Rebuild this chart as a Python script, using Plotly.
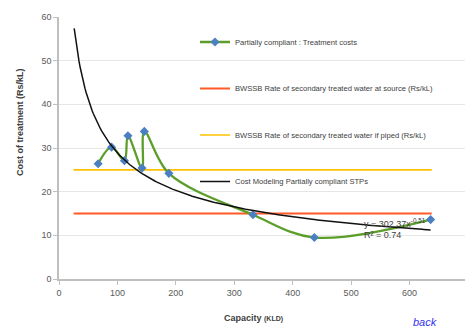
import numpy as np
import plotly.graph_objects as go

# ---- data ----
capacity_kld = [67, 90, 112, 118, 142, 146, 188, 332, 437, 636]
treatment_cost = [26.4, 30.2, 27.1, 32.8, 25.4, 33.8, 24.2, 14.7, 9.5, 13.6]

rate_x = [25, 638]
rate_at_source = [15, 15]
rate_if_piped = [25, 25]

trend_coef = 302.37
trend_exp = -0.51
trend_r2 = 0.74
trend_x_range = [26, 636]

x_ticks = [0, 100, 200, 300, 400, 500, 600, 700]
y_ticks = [0, 10, 20, 30, 40, 50, 60]

tx = np.linspace(trend_x_range[0], trend_x_range[1], 300)
ty = trend_coef * tx ** trend_exp

FONT = "Liberation Sans, Arial, sans-serif"

W, H = 465, 321
ML, MR, MT, MB = 51, 5, 9, 50
PW = W - ML - MR
PH = H - MT - MB


def px_x(p):  # page pixel x -> paper
    return (p - 8 - ML) / PW


def px_y(p):  # page pixel y -> paper
    return 1 - (p - 8 - MT) / PH


fig = go.Figure()

fig.add_trace(go.Scatter(
    x=rate_x, y=rate_at_source, mode="lines",
    line=dict(color="#ff5a28", width=2),
    name="BWSSB Rate of secondary treated water at source (Rs/kL)",
    legendgroup="b", legendrank=2))
fig.add_trace(go.Scatter(
    x=rate_x, y=rate_if_piped, mode="lines",
    line=dict(color="#ffc000", width=1.6),
    name="BWSSB Rate of secondary treated water if piped (Rs/kL)",
    legendgroup="c", legendrank=3))
fig.add_trace(go.Scatter(
    x=capacity_kld, y=treatment_cost, mode="lines+markers",
    line=dict(color="#5b9e2a", width=2.3, shape="spline", smoothing=1),
    marker=dict(symbol="diamond", size=7, color="#4a7fc1"),
    name="Partially compliant : Treatment costs",
    legendgroup="a", legendrank=1))
fig.add_trace(go.Scatter(
    x=tx, y=ty, mode="lines",
    line=dict(color="#111111", width=1.5),
    name="Cost Modeling Partially compliant STPs",
    legendgroup="d", legendrank=4))

axis_common = dict(
    showline=True, linecolor="#bfbfbf", linewidth=1.5,
    ticks="outside", ticklen=4, tickcolor="#bfbfbf",
    tickfont=dict(family=FONT, size=9, color="#595959"),
    zeroline=False,
)

fig.update_xaxes(range=[0, 700], tickvals=x_ticks, showgrid=False, **axis_common)
fig.update_yaxes(range=[0, 60], tickvals=y_ticks, showgrid=True,
                 gridcolor="#e6e6e6", gridwidth=1, **axis_common)

fig.update_layout(
    width=W, height=H,
    margin=dict(l=ML, r=MR, t=MT, b=MB),
    paper_bgcolor="white", plot_bgcolor="white",
    font=dict(family=FONT),
    showlegend=True,
    legend=dict(
        x=px_x(195), y=0.96, xanchor="left", yanchor="top",
        bgcolor="rgba(0,0,0,0)", borderwidth=0,
        font=dict(family=FONT, size=7.6, color="#404040"),
        traceorder="grouped", tracegroupgap=27.5, itemwidth=30,
    ),
    shapes=[dict(type="line", xref="paper", yref="paper", x0=1, x1=1, y0=0, y1=1,
                 line=dict(color="#d9d9d9", width=1))],
    annotations=[
        dict(text="y = 302.37x<sup>-0.51</sup><br>R² = 0.74", xref="x", yref="y",
             x=518, y=11.6, xanchor="left", yanchor="middle", showarrow=False, align="left",
             font=dict(family=FONT, size=9, color="#404040")),
        dict(text="<b>Cost of treatment (Rs/kL)</b>", xref="paper", yref="paper",
             x=px_x(20), y=px_y(122), textangle=-90, showarrow=False,
             xanchor="center", yanchor="middle",
             font=dict(family=FONT, size=9, color="#404040")),
        dict(text="<b>Capacity <span style='font-size:7px'>(KLD)</span></b>", xref="paper", yref="paper",
             x=px_x(253), y=px_y(318), showarrow=False,
             xanchor="center", yanchor="middle",
             font=dict(family=FONT, size=9, color="#404040")),
        dict(text="<i>back</i>", xref="paper", yref="paper",
             x=px_x(425), y=px_y(322), showarrow=False,
             xanchor="center", yanchor="middle",
             font=dict(family=FONT, size=11, color="#3333ee")),
    ],
)

fig.write_html("out.html")
